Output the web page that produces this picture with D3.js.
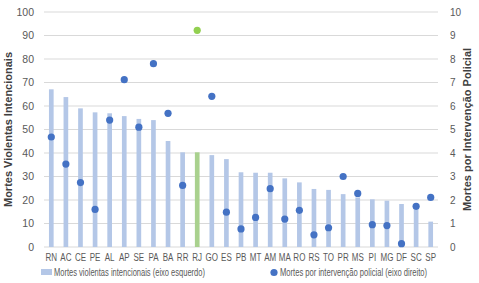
<!DOCTYPE html>
<html>
<head>
<meta charset="utf-8">
<script src="https://cdn.jsdelivr.net/npm/d3@7"></script>
<style>
  body { margin: 0; background: #fff; }
  svg { display: block; }
</style>
</head>
<body>
<script>
// Estados, ordenados por mortes violentas intencionais
const states = ["RN", "AC", "CE", "PE", "AL", "AP", "SE", "PA", "BA", "RR", "RJ", "GO", "ES", "PB",
  "MT", "AM", "MA", "RO", "RS", "TO", "PR", "MS", "PI", "MG", "DF", "SC", "SP"];
// Mortes violentas intencionais (eixo esquerdo)
const mvi = [67.1, 63.8, 59.0, 57.3, 56.9, 55.7, 54.5, 54.0, 45.1, 40.3, 40.3, 39.1, 37.4, 31.8,
  31.6, 31.6, 29.2, 27.5, 24.7, 24.3, 22.5, 21.1, 20.3, 19.7, 18.3, 17.6, 10.8];
// Mortes por intervenção policial (eixo direito)
const mip = [4.68, 3.53, 2.74, 1.6, 5.4, 7.12, 5.1, 7.8, 5.69, 2.62, 9.22, 6.41, 1.48, 0.77,
  1.26, 2.48, 1.19, 1.56, 0.52, 0.82, 3.0, 2.28, 0.95, 0.91, 0.14, 1.73, 2.11];
const leftTicks = [0, 10, 20, 30, 40, 50, 60, 70, 80, 90, 100];
const rightTicks = [0, 1, 2, 3, 4, 5, 6, 7, 8, 9, 10];
const highlight = "RJ";

const width = 479, height = 283;
const margin = {top: 12, right: 41, bottom: 36, left: 44};
const innerW = width - margin.left - margin.right;
const innerH = height - margin.top - margin.bottom;

const BAR = "#b4c7e7", BAR_HI = "#a9d18e";
const DOT = "#4472c4", DOT_HI = "#92d050";
const TXT = "#595959";
const font = "Liberation Sans, Arial, sans-serif";

// aperta o texto horizontalmente (imita fonte condensada)
function squeeze(sel, k) {
  sel.each(function() {
    const len = this.getComputedTextLength();
    d3.select(this).attr("textLength", len * k).attr("lengthAdjust", "spacingAndGlyphs");
  });
}

const data = states.map((s, i) => ({state: s, mvi: mvi[i], mip: mip[i]}));

const x = d3.scaleBand().domain(states).range([0, innerW]).paddingInner(0.68).paddingOuter(0.34);
const yL = d3.scaleLinear().domain([0, 100]).range([innerH, 0]);
const yR = d3.scaleLinear().domain([0, 10]).range([innerH, 0]);

const svg = d3.select("body").append("svg")
  .attr("width", width).attr("height", height)
  .style("font-family", font);

const g = svg.append("g").attr("transform", `translate(${margin.left},${margin.top})`);

// Grid
g.append("g").selectAll("line")
  .data(leftTicks)
  .join("line")
  .attr("x1", 0).attr("x2", innerW)
  .attr("y1", d => yL(d)).attr("y2", d => yL(d))
  .attr("stroke", "#d9d9d9").attr("stroke-width", 1);

// Left axis
const axL = g.append("g")
  .call(d3.axisLeft(yL).tickValues(leftTicks).tickSize(0).tickPadding(10));
axL.select(".domain").remove();
axL.selectAll("text").attr("fill", TXT).style("font-size", "10.5px").style("font-family", font);

// Right axis
const axR = g.append("g").attr("transform", `translate(${innerW},0)`)
  .call(d3.axisRight(yR).tickValues(rightTicks).tickSize(0).tickPadding(12));
axR.select(".domain").remove();
axR.selectAll("text").attr("fill", TXT).style("font-size", "10px").style("font-family", font);

// Category axis
const axB = g.append("g").attr("transform", `translate(0,${innerH})`)
  .call(d3.axisBottom(x).tickSize(0).tickPadding(7));
axB.select(".domain").remove();
axB.selectAll("text").attr("fill", TXT).style("font-size", "10px").style("font-family", font)
  .call(squeeze, 0.8);

// Bars
g.append("g").selectAll("rect")
  .data(data)
  .join("rect")
  .attr("x", d => x(d.state))
  .attr("width", x.bandwidth())
  .attr("y", d => yL(d.mvi))
  .attr("height", d => innerH - yL(d.mvi))
  .attr("fill", d => d.state === highlight ? BAR_HI : BAR);

// Dots
g.append("g").selectAll("circle")
  .data(data)
  .join("circle")
  .attr("cx", d => x(d.state) + x.bandwidth() / 2)
  .attr("cy", d => yR(d.mip))
  .attr("r", 3.6)
  .attr("fill", d => d.state === highlight ? DOT_HI : DOT);

// Axis titles
svg.append("text")
  .attr("transform", `translate(12,${margin.top + innerH / 2}) rotate(-90)`)
  .attr("text-anchor", "middle")
  .attr("fill", "#404040")
  .style("font-size", "11px").style("font-weight", "bold")
  .text("Mortes Violentas Intencionais");

svg.append("text")
  .attr("transform", `translate(471,${margin.top + innerH / 2}) rotate(-90)`)
  .attr("text-anchor", "middle")
  .attr("fill", "#404040")
  .style("font-size", "11px").style("font-weight", "bold")
  .text("Mortes por Intervenção Policial");

// Legend
const lg = svg.append("g").style("font-size", "10px").attr("fill", TXT);
lg.append("rect").attr("x", 41).attr("y", 269).attr("width", 11).attr("height", 6).attr("fill", BAR);
lg.append("text").attr("x", 54).attr("y", 275.5)
  .attr("textLength", 151).attr("lengthAdjust", "spacingAndGlyphs")
  .text("Mortes violentas intencionais (eixo esquerdo)");
lg.append("circle").attr("cx", 274).attr("cy", 272.5).attr("r", 3.6).attr("fill", DOT);
lg.append("text").attr("x", 280).attr("y", 275.5)
  .attr("textLength", 147).attr("lengthAdjust", "spacingAndGlyphs")
  .text("Mortes por intervenção policial (eixo direito)");
</script>
</body>
</html>
